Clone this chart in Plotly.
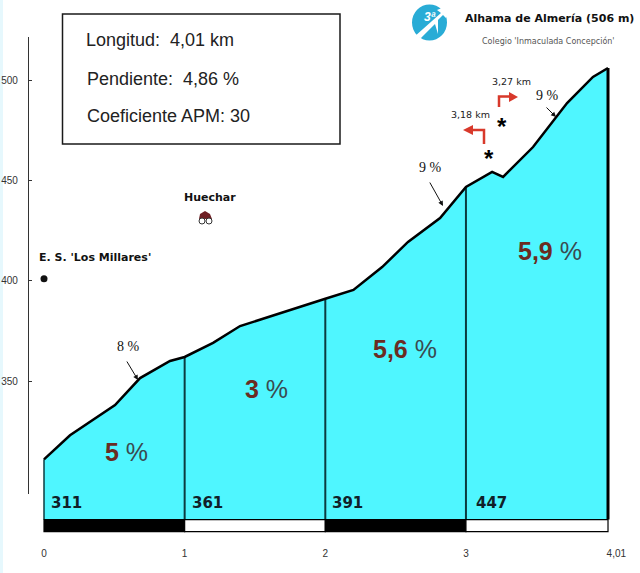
import plotly.graph_objects as go

# ---------- data ----------
profile_km = [0, 0.185, 0.505, 0.683, 0.896, 1.0, 1.202, 1.394, 2.0, 2.2, 2.404, 2.588, 2.816, 3.0, 3.186, 3.264, 3.477, 3.719, 3.903, 4.01]
profile_m = [311, 323, 338, 351.5, 360, 362, 369, 377.4, 391, 395.4, 406.8, 419.3, 431.2, 446.7, 454.2, 451.7, 466.6, 488.5, 501.5, 506]
split_km = [1, 2, 3, 4.01]
split_m = [362, 391, 446.7, 506]
base_m = 281
band_bottom_m = 275
band_km = [0, 1, 2, 3, 4.01]
band_colors = ["#000000", "#ffffff", "#000000", "#ffffff"]
x_ticks = [0, 1, 2, 3, 4.01]
x_labels = ["0", "1", "2", "3", "\u00a0\u00a0\u00a0\u00a0\u00a0\u00a04,01"]
y_ticks = [350, 400, 450, 500]
section_km = [0.59, 1.585, 2.567, 3.6]
section_m = [314.6, 346, 366, 415]
section_pct = ["5", "3", "5,6", "5,9"]
start_km = [0.16, 1.16, 2.16, 3.18]
start_labels = ["311", "361", "391", "447"]
poi_km = [0, 1.15]
poi_m = [401, 431]

W, H = 640, 573
def X(p): return p / W
def Y(p): return 1 - p / H

PX_KM = 140.65
PX_M = 2.007
CYAN = "#4ff6ff"

fig = go.Figure()

# axis carrier
fig.add_trace(go.Scatter(x=[], y=[], xaxis="x", yaxis="y", showlegend=False))

# fill
fig.add_trace(go.Scatter(
    x=profile_km + [profile_km[-1], profile_km[0], profile_km[0]],
    y=profile_m + [base_m, base_m, profile_m[0]],
    mode="lines", fill="toself", fillcolor=CYAN, line=dict(width=0, color=CYAN),
    xaxis="x", yaxis="y2", showlegend=False, hoverinfo="skip"))

# dividers
for k, m, c, w in zip(split_km, split_m, ["#0b3b40"] * 3 + ["#000000"], [2, 2, 2, 3]):
    fig.add_trace(go.Scatter(x=[k, k], y=[band_bottom_m + 6, m], mode="lines",
                             line=dict(color=c, width=w), xaxis="x", yaxis="y2",
                             showlegend=False, hoverinfo="skip"))
fig.add_trace(go.Scatter(x=[0, 0], y=[base_m, profile_m[0]], mode="lines",
                         line=dict(color="#0b3b40", width=1.5), xaxis="x", yaxis="y2",
                         showlegend=False, hoverinfo="skip"))

# profile outline
fig.add_trace(go.Scatter(x=profile_km, y=profile_m, mode="lines",
                         line=dict(color="#000000", width=2.5), xaxis="x", yaxis="y2",
                         showlegend=False, hoverinfo="skip"))

shapes = []
# km band
for i, c in enumerate(band_colors):
    shapes.append(dict(type="rect", xref="x", yref="y2", x0=band_km[i], x1=band_km[i + 1],
                       y0=band_bottom_m, y1=base_m, fillcolor=c,
                       line=dict(color="#000000", width=1.2), layer="above"))

# left pale edge
shapes.append(dict(type="rect", xref="paper", yref="paper", x0=0, x1=X(3), y0=0, y1=1,
                   fillcolor="#e6f8fd", line=dict(width=0), layer="below"))
# info box
shapes.append(dict(type="rect", xref="paper", yref="paper", x0=X(62.5), x1=X(340), y0=Y(14), y1=Y(144),
                   fillcolor="rgba(0,0,0,0)", line=dict(color="#1a1a1a", width=1.5)))

def path(pts, **kw):
    d = "M" + " L".join(f"{X(a):.5f},{Y(b):.5f}" for a, b in pts)
    return dict(type="path", path=d, xref="paper", yref="paper", **kw)

# logo
shapes.append(dict(type="circle", xref="paper", yref="paper", x0=X(412), x1=X(447), y0=Y(4.5), y1=Y(40.5),
                   fillcolor="#29acd6", line=dict(width=0)))
shapes.append(path([(414, 37), (441, 13), (437, 10), (447, 6), (446, 18), (443, 15), (438, 20), (438, 34), (435, 24), (421, 38)] + [(414, 37)],
                   fillcolor="#ffffff", line=dict(width=0)))

# red turn arrows
RED = "#d8392b"
shapes.append(path([(484, 144), (484, 130), (472, 130)], line=dict(color=RED, width=2.5)))
shapes.append(path([(463, 130), (473, 125), (473, 135), (463, 130)], fillcolor=RED, line=dict(width=0)))
shapes.append(path([(499, 107), (499, 96.5), (511, 96.5)], line=dict(color=RED, width=2.5)))
shapes.append(path([(518, 97), (509, 92), (509, 102), (518, 97)], fillcolor=RED, line=dict(width=0)))

# POI house icon
shapes.append(path([(199, 219), (200, 214), (205, 211), (210, 214), (212, 219), (199, 219)], fillcolor="#6e1f24", line=dict(width=0)))
shapes.append(dict(type="circle", xref="paper", yref="paper", x0=X(199), x1=X(205), y0=Y(218), y1=Y(224),
                   fillcolor="#ffffff", line=dict(color="#333333", width=1)))
shapes.append(dict(type="circle", xref="paper", yref="paper", x0=X(206), x1=X(212), y0=Y(218), y1=Y(224),
                   fillcolor="#ffffff", line=dict(color="#333333", width=1)))

# POI point
fig.add_trace(go.Scatter(x=poi_km[:1], y=poi_m[:1], mode="markers",
                         marker=dict(color="#111111", size=7), xaxis="x", yaxis="y2",
                         showlegend=False, hoverinfo="skip"))

ann = []
def T(x, y, text, size, color="#000000", family="Liberation Sans", anchor="center", bold=False):
    ann.append(dict(x=X(x), y=Y(y), xref="paper", yref="paper", text=f"<b>{text}</b>" if bold else text,
                    showarrow=False, xanchor=anchor, yanchor="middle",
                    font=dict(size=size, color=color, family=family)))

NB = "\u00a0"
T(84, 39.5, f"Longitud:{NB}{NB}4,01 km", 18, "#222222", anchor="left")
T(85, 78.5, f"Pendiente:{NB}{NB}4,86 %", 18, "#222222", anchor="left")
T(85, 116, "Coeficiente APM: 30", 18, "#222222", anchor="left")
T(463, 18.5, "Alhama de Almería (506 m)", 11, "#111111", "DejaVu Sans", "left", True)
T(480, 41, "Colegio 'Inmaculada Concepción'", 8, "#555555", "DejaVu Sans", "left")
T(430, 17, "<i>3ª</i>", 12, "#ffffff", "Liberation Sans", "center", True)
T(210, 197, "Huechar", 11, "#111111", "DejaVu Sans", bold=True)
T(94.5, 258, "E. S. 'Los Millares'", 11, "#111111", "DejaVu Sans", bold=True)
T(128, 346, f"8{NB}%", 14, "#111111", "Liberation Serif")
T(430, 167, f"9{NB}%", 14, "#111111", "Liberation Serif")
T(547, 96, f"9{NB}%", 14, "#111111", "Liberation Serif")
T(470, 115, "3,18 km", 9.5, "#222222", "DejaVu Sans")
T(511, 82, "3,27 km", 9.5, "#222222", "DejaVu Sans")
T(489, 158, "<b>*</b>", 24, "#000000", "Liberation Sans")
T(502, 126, "<b>*</b>", 24, "#000000", "Liberation Sans")

for k, m, p in zip(section_km, section_m, section_pct):
    ann.append(dict(x=k, y=m, xref="x", yref="y2", showarrow=False, xanchor="center", yanchor="middle",
                    text=f'<span style="color:#6a2c22"><b>{p}</b></span>{NB}<span style="color:#3a4a50">%</span>',
                    font=dict(size=25, family="Liberation Sans")))
for k, t in zip(start_km, start_labels):
    ann.append(dict(x=k, y=289, xref="x", yref="y2", showarrow=False, xanchor="center", yanchor="middle",
                    text=f"<b>{t}</b>", font=dict(size=15, color="#102028", family="DejaVu Sans")))

# slope pointers
for (x0, y0, x1, y1) in [(126, 360, 138, 380), (429, 181, 443, 206), (545, 106, 556, 117)]:
    ann.append(dict(x=X(x1), y=Y(y1), ax=x0 - x1, ay=y0 - y1, xref="paper", yref="paper", axref="pixel", ayref="pixel",
                    text="", showarrow=True, arrowhead=2, arrowsize=1, arrowwidth=1, arrowcolor="#111111"))

fig.update_layout(
    width=W, height=H, autosize=False, margin=dict(l=0, r=0, t=0, b=0),
    paper_bgcolor="#ffffff", plot_bgcolor="rgba(0,0,0,0)", showlegend=False,
    shapes=shapes, annotations=ann, hovermode=False,
    xaxis=dict(domain=[0, 1], range=[-44 / PX_KM, 596 / PX_KM], anchor="y2", tickmode="array",
               tickvals=x_ticks, ticktext=x_labels, showgrid=False, zeroline=False, showline=False,
               ticks="", ticklabelstandoff=6, tickfont=dict(size=10, color="#333333", family="Liberation Sans")),
    yaxis=dict(domain=[1 - 494 / H, 1 - 37 / H], range=[500 - (494 - 80) / PX_M, 500 + (80 - 37) / PX_M],
               anchor="free", position=28 / W, tickmode="array", tickvals=y_ticks,
               showgrid=False, zeroline=False, showline=True, linecolor="#333333", linewidth=1.2,
               ticks="inside", ticklen=3, tickcolor="#333333", ticklabelstandoff=8,
               tickfont=dict(size=10, color="#333333", family="Liberation Sans")),
    yaxis2=dict(domain=[1 - 540 / H, 1], range=[500 - (540 - 80) / PX_M, 500 + 80 / PX_M], anchor="x",
                visible=False, showgrid=False, zeroline=False),
)
fig.write_html("out.html", config=dict(displayModeBar=False),
               post_script="document.body.style.margin='0';document.documentElement.style.overflow='hidden';")
